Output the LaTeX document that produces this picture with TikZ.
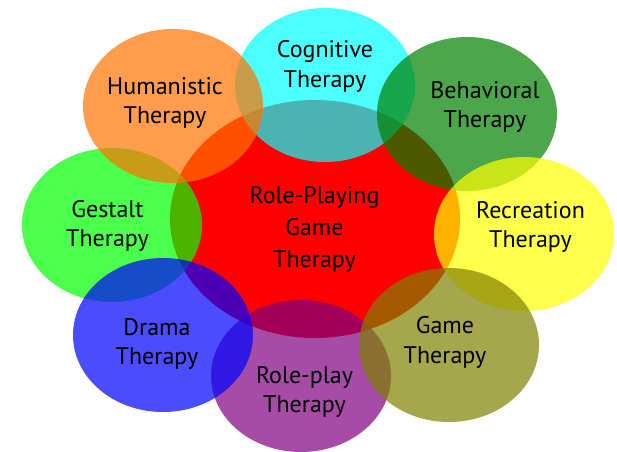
\documentclass[tikz,border=0pt]{standalone}
\usepackage{fontspec}
\setmainfont{PT Sans}
\definecolor{cogc}{RGB}{0,255,255}
\definecolor{humc}{RGB}{255,115,0}
\definecolor{behc}{RGB}{0,128,0}
\definecolor{gesc}{RGB}{0,255,0}
\definecolor{recc}{RGB}{255,255,0}
\definecolor{drac}{RGB}{0,0,255}
\definecolor{rolc}{RGB}{128,0,128}
\definecolor{gamc}{RGB}{128,128,0}
\definecolor{cenc}{RGB}{255,0,0}
\tikzset{
  petal/.style={fill=#1, fill opacity=0.7, draw=none},
  lbl/.style={align=center, text=black, font=\fontsize{24}{29.5}\selectfont, inner sep=0pt},
}
\begin{document}
\begin{tikzpicture}[x=1pt,y=-1pt]
\useasboundingbox (0,0) rectangle (617,451);
% center
\fill[cenc] (315,219) ellipse [x radius=145, y radius=119];
% petals in stacking order
\fill[petal=cogc] (325,85) ellipse [x radius=90, y radius=77];
\fill[petal=behc] (467,114) ellipse [x radius=90, y radius=77];
\fill[petal=recc] (524,234) ellipse [x radius=90, y radius=77];
\fill[petal=rolc] (301,376) ellipse [x radius=90, y radius=76];
\fill[petal=gamc] (449,345) ellipse [x radius=90, y radius=77];
\fill[petal=gesc] (112,225) ellipse [x radius=90, y radius=77];
\fill[petal=drac] (163,335) ellipse [x radius=90, y radius=77];
\fill[petal=humc] (173,106) ellipse [x radius=90, y radius=77];
% labels
\node[lbl, font=\fontsize{24}{32}\selectfont] (center) at (314.5,229.5) {Role-Playing\\Game\\Therapy};
\node[lbl] (cog) at (325,66.5) {Cognitive\\Therapy};
\node[lbl] (hum) at (165,103) {Humanistic\\Therapy};
\node[lbl] (beh) at (485,107) {Behavioral\\Therapy};
\node[lbl] (rec) at (530.5,227) {Recreation\\Therapy};
\node[lbl] (ges) at (107.5,226) {Gestalt\\Therapy};
\node[lbl] (dra) at (157,344) {Drama\\Therapy};
\node[lbl] (rol) at (304.5,392) {Role-play\\Therapy};
\node[lbl] (gam) at (445,342.5) {Game\\Therapy};
\end{tikzpicture}
\end{document}
